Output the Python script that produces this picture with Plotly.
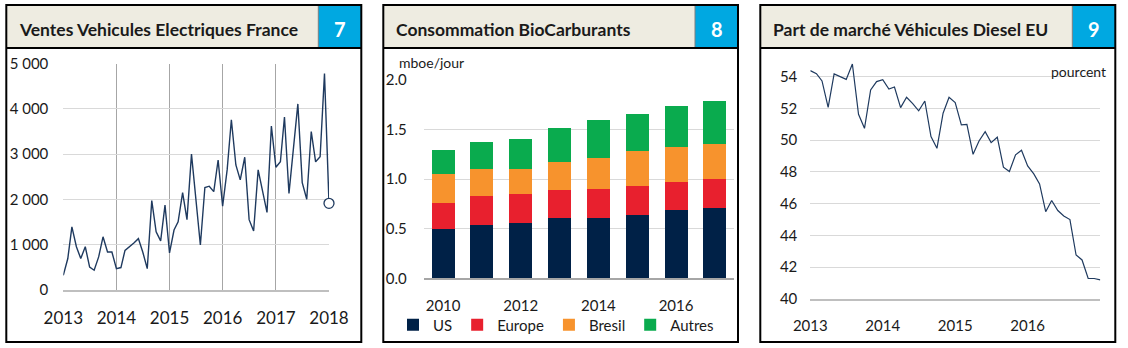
import pandas as pd
import plotly.graph_objects as go

W, H = 1128, 348
FONT = "Lato"
TXT = "#1a1a1a"

# ---------------- data ----------------
ev_months = pd.date_range("2013-01-01", "2018-01-01", freq="MS")
ev_sales = [320, 690, 1390, 950, 690, 950, 500, 430, 725, 1170, 835, 835,
            465, 490, 870, 950, 1035, 1130, 835, 465, 1970, 1280, 1080, 1870,
            815, 1320, 1500, 2150, 1550, 3000, 1985, 990, 2260, 2290, 2170, 2870,
            1850, 2650, 3760, 2760, 2430, 2930, 1550, 1300, 2650, 2200, 1710, 3620,
            2710, 2830, 3820, 2130, 3090, 4110, 2370, 2000, 3500, 2830, 2940, 4780,
            1910]
ev_yticks = [0, 1000, 2000, 3000, 4000, 5000]
ev_ytext = ["0", "1 000", "2 000", "3 000", "4 000", "5 000"]

bio_years = [2010, 2011, 2012, 2013, 2014, 2015, 2016, 2017]
bio_xticks = [2010, 2012, 2014, 2016]
bio_us = [0.50, 0.54, 0.56, 0.61, 0.61, 0.64, 0.69, 0.71]
bio_europe = [0.26, 0.29, 0.29, 0.28, 0.29, 0.29, 0.28, 0.29]
bio_bresil = [0.29, 0.27, 0.25, 0.28, 0.31, 0.35, 0.35, 0.35]
bio_autres = [0.24, 0.27, 0.31, 0.35, 0.39, 0.38, 0.42, 0.44]
bio_names = ["US", "Europe", "Bresil", "Autres"]
bio_colors = ["#002147", "#E8202E", "#F7932D", "#0AAB4E"]

diesel_months = pd.date_range("2013-01-01", "2017-01-01", freq="MS")
diesel_share = [54.38, 54.19, 53.73, 52.07, 54.17, 53.98, 53.83, 54.8, 51.63, 50.75,
                53.16, 53.69, 53.81, 53.22, 53.35, 52.05, 52.7, 52.3, 51.85, 52.47,
                50.23, 49.49, 51.7, 52.7, 52.37, 50.96, 51.0, 49.11, 49.95, 50.54,
                49.85, 50.19, 48.3, 48.03, 49.08, 49.37, 48.38, 47.88, 47.25, 45.5,
                46.2, 45.57, 45.23, 45.0, 42.77, 42.46, 41.3, 41.29, 41.2]
diesel_xticks = ["2013", "2014", "2015", "2016"]
diesel_yticks = [40, 42, 44, 46, 48, 50, 52, 54]

titles = ["Ventes Vehicules Electriques France", "Consommation BioCarburants",
          "Part de marché Véhicules Diesel EU"]
numbers = ["7", "8", "9"]


def px(x):
    return x / W


def py(y):
    return 1 - y / H


fig = go.Figure()

# panel 1: EV sales
fig.add_trace(go.Scatter(x=ev_months, y=ev_sales, mode="lines",
                         line=dict(color="#1F3A5F", width=1.4),
                         xaxis="x", yaxis="y", showlegend=False, cliponaxis=False))
fig.add_trace(go.Scatter(x=[ev_months[-1]], y=[ev_sales[-1]], mode="markers",
                         marker=dict(size=10, color="white",
                                     line=dict(color="#1F3A5F", width=1.3)),
                         xaxis="x", yaxis="y", showlegend=False, cliponaxis=False))

# panel 2: biofuels stacked bars
for name, vals, col in zip(bio_names, [bio_us, bio_europe, bio_bresil, bio_autres], bio_colors):
    fig.add_trace(go.Bar(x=bio_years, y=vals, name=name, marker=dict(color=col, line=dict(width=0)),
                         xaxis="x2", yaxis="y2"))

# panel 3: diesel share
fig.add_trace(go.Scatter(x=diesel_months, y=diesel_share, mode="lines",
                         line=dict(color="#1F3A5F", width=1.2),
                         xaxis="x3", yaxis="y3", showlegend=False))

tick_font = dict(family=FONT, size=15, color=TXT)

layout = dict(
    width=W, height=H, margin=dict(l=0, r=0, t=0, b=0, pad=0, autoexpand=False),
    paper_bgcolor="white", plot_bgcolor="white",
    barmode="stack", bargap=0.41,
    font=dict(family=FONT, color=TXT),
    xaxis=dict(domain=[px(63.3), px(329)], type="date",
               range=["2013-01-01", "2018-01-01"], dtick="M12", tick0="2013-01-01",
               tickformat="%Y", showgrid=True, gridcolor="#A6A6A6", gridwidth=1,
               showline=True, linecolor="#BFBFBF", linewidth=1.5, zeroline=False,
               ticks="", ticklabelstandoff=12, tickfont=dict(family=FONT, size=17, color=TXT),
               anchor="y", automargin=False),
    yaxis=dict(domain=[py(289.7), py(63.7)], range=[0, 5000], tickvals=ev_yticks,
               ticktext=ev_ytext, showgrid=True, gridcolor="#D9D9D9", gridwidth=1,
               zeroline=False, showline=False, ticks="", ticklabelstandoff=14,
               tickfont=tick_font, anchor="x", automargin=False),
    xaxis2=dict(domain=[px(423.7), px(734.3)], range=[2009.5, 2017.5],
                tickvals=bio_xticks, showgrid=False, zeroline=False,
                showline=True, linecolor="#A6A6A6", linewidth=1.5, ticks="",
                ticklabelstandoff=13, tickfont=tick_font, anchor="y2", automargin=False),
    yaxis2=dict(domain=[py(278.3), py(80)], range=[0, 2], dtick=0.5, tickformat=".1f",
                showgrid=True, gridcolor="#D9D9D9", gridwidth=1.2, zeroline=False,
                ticks="", ticklabelstandoff=16, tickfont=tick_font, anchor="x2", automargin=False),
    xaxis3=dict(domain=[px(810.3), px(1100.3)], type="date",
                range=["2013-01-01", "2017-01-01"],
                tickvals=[y + "-01-01" for y in diesel_xticks], ticktext=diesel_xticks,
                showgrid=False, zeroline=False, showline=True,
                linecolor="#BFBFBF", linewidth=2, ticks="", ticklabelstandoff=12,
                tickfont=tick_font, anchor="y3", automargin=False),
    yaxis3=dict(domain=[py(299), py(60.8)], range=[40, 55], tickvals=diesel_yticks,
                showgrid=True, gridcolor="#D9D9D9", gridwidth=1.3, zeroline=False,
                ticks="", ticklabelstandoff=12, tickfont=tick_font, anchor="x3", automargin=False),
    legend=dict(orientation="h", x=px(393), y=py(325), xanchor="left", yanchor="middle",
                font=dict(family=FONT, size=15, color=TXT), bgcolor="rgba(0,0,0,0)",
                traceorder="normal", itemclick=False, itemdoubleclick=False),
)
fig.update_layout(**layout)

# panel frames and headers
panels = [(6.3, 361.3), (383.3, 738.0), (760.3, 1115.3)]
shapes = []
annotations = []
for (L, R), title, num in zip(panels, titles, numbers):
    shapes.append(dict(type="rect", xref="paper", yref="paper", x0=px(L), x1=px(R),
                       y0=py(48), y1=py(5), fillcolor="#EEECE1", line=dict(width=0), layer="below"))
    shapes.append(dict(type="rect", xref="paper", yref="paper", x0=px(R - 43), x1=px(R),
                       y0=py(48), y1=py(5), fillcolor="#00A8E1", line=dict(width=0), layer="below"))
    shapes.append(dict(type="line", xref="paper", yref="paper", x0=px(R - 43), x1=px(R - 43),
                       y0=py(48), y1=py(5), line=dict(color="#7F7F7F", width=1)))
    shapes.append(dict(type="line", xref="paper", yref="paper", x0=px(L), x1=px(R),
                       y0=py(48), y1=py(48), line=dict(color="black", width=2)))
    shapes.append(dict(type="rect", xref="paper", yref="paper", x0=px(L), x1=px(R),
                       y0=py(342), y1=py(5), line=dict(color="black", width=2)))
    annotations.append(dict(text="<b>%s</b>" % title, xref="paper", yref="paper",
                            x=px(L + 10.5), y=py(29), xanchor="left", yanchor="middle",
                            showarrow=False, font=dict(family=FONT, size=17.5, color=TXT)))
    annotations.append(dict(text="<b>%s</b>" % num, xref="paper", yref="paper",
                            x=px(R - 21.5), y=py(29), xanchor="center", yanchor="middle",
                            showarrow=False, font=dict(family=FONT, size=20, color="white")))

annotations.append(dict(text="mboe/jour", xref="paper", yref="paper", x=px(397), y=py(63),
                        xanchor="left", yanchor="middle", showarrow=False,
                        font=dict(family=FONT, size=14, color=TXT)))
annotations.append(dict(text="pourcent", xref="paper", yref="paper", x=px(1108), y=py(71),
                        xanchor="right", yanchor="middle", showarrow=False,
                        font=dict(family=FONT, size=14, color=TXT)))

fig.update_layout(shapes=shapes, annotations=annotations)
fig.write_html("out.html")
